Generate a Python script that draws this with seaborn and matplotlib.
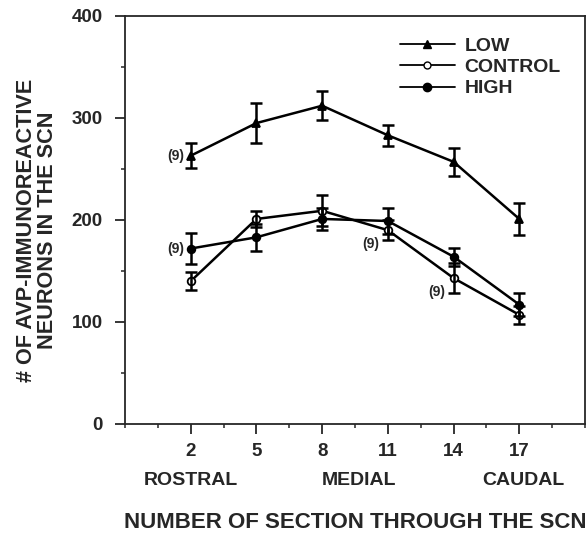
import numpy as np
import pandas as pd
import matplotlib
matplotlib.use('Agg')
import matplotlib.pyplot as plt
import seaborn as sns
from matplotlib.lines import Line2D

# Data (means and SEM)
sections = [2, 5, 8, 11, 14, 17]
low_mean = [263, 295, 312, 283, 257, 201]
low_err = [12, 20, 14, 10, 14, 16]
control_mean = [140, 201, 209, 190, 143, 107]
control_err = [9, 8, 15, 10, 15, 9]
high_mean = [172, 183, 201, 199, 164, 117]
high_err = [15, 13, 11, 13, 9, 11]

xtick_labels = ['2', '5', '8', '11', '14', '17']
region_labels = ['ROSTRAL', 'MEDIAL', 'CAUDAL']
region_pos = [2, 9.7, 17.2]

sns.set_style('ticks')
plt.rcParams['font.family'] = ['Liberation Sans', 'DejaVu Sans']
plt.rcParams['font.weight'] = 'bold'

df = pd.DataFrame({
    'section': sections * 3,
    'count': low_mean + control_mean + high_mean,
    'group': ['LOW'] * 6 + ['CONTROL'] * 6 + ['HIGH'] * 6,
})

fig = plt.figure(figsize=(5.87, 5.39), dpi=100)
ax = fig.add_axes([0.213, 0.2134, 0.7836, 0.757])

sns.lineplot(data=df, x='section', y='count', hue='group', style='group',
             palette={'LOW': 'black', 'CONTROL': 'black', 'HIGH': 'black'},
             markers={'LOW': '^', 'CONTROL': 'o', 'HIGH': 'o'},
             dashes=False, linewidth=1.8, markersize=5.5, ax=ax, legend=False)

# open circles for control
lines = ax.get_lines()
lines[1].set_markerfacecolor('white')
for l in lines:
    l.set_markeredgecolor('black')
    l.set_markeredgewidth(1.3)

for m, e in [(low_mean, low_err), (control_mean, control_err), (high_mean, high_err)]:
    ax.errorbar(sections, m, yerr=e, fmt='none', ecolor='black',
                elinewidth=1.8, capsize=4, capthick=1.8)

# legend
handles = [
    Line2D([], [], color='black', lw=1.3, marker='^', markersize=6),
    Line2D([], [], color='black', lw=1.3, marker='o', markersize=5, markerfacecolor='white'),
    Line2D([], [], color='black', lw=1.3, marker='o', markersize=6),
]
leg = ax.legend(handles, ['LOW', 'CONTROL', 'HIGH'], loc='upper right',
                frameon=False, handlelength=2.8, fontsize=14,
                bbox_to_anchor=(0.985, 0.99), labelspacing=0.18, handletextpad=0.5)

# (9) annotations
notes = [(2, 263, -5, 0), (2, 172, -5, 0), (11, 190, -6, -10), (14, 143, -6, -10)]
for x, y, dx, dy in notes:
    ax.annotate('(9)', (x, y), xytext=(dx, dy), textcoords='offset points',
                ha='right', va='center', fontsize=10, fontweight='bold')

ax.set_xlim(-1, 20)
ax.set_ylim(0, 400)
ax.set_xticks(sections)
ax.set_xticklabels(xtick_labels)
ax.set_xticks(np.arange(-1, 20.1, 1.5), minor=True)
ax.set_yticks([0, 100, 200, 300, 400])
ax.set_yticks([50, 150, 250, 350], minor=True)
ax.tick_params(axis='both', which='major', labelsize=13.5, width=1.3, length=7, direction='out')
ax.tick_params(axis='x', which='major', pad=7)
ax.tick_params(axis='y', which='major', pad=9)
ax.tick_params(axis='both', which='minor', width=1.1, length=3, direction='out')
for lab in ax.get_xticklabels() + ax.get_yticklabels():
    lab.set_fontweight('bold')
for s in ax.spines.values():
    s.set_linewidth(1.3)

for lab, pos in zip(region_labels, region_pos):
    ax.text(pos, -55, lab, ha='center', va='center', fontsize=14, fontweight='bold')

ax.set_xlabel('NUMBER OF SECTION THROUGH THE SCN', fontsize=16, fontweight='bold', labelpad=37)
ax.set_ylabel('# OF AVP-IMMUNOREACTIVE\nNEURONS IN THE SCN', fontsize=15.6, fontweight='bold',
              linespacing=1.0)
ax.yaxis.set_label_coords(-0.145, 0.475)

fig.savefig('out.png', dpi=100)
